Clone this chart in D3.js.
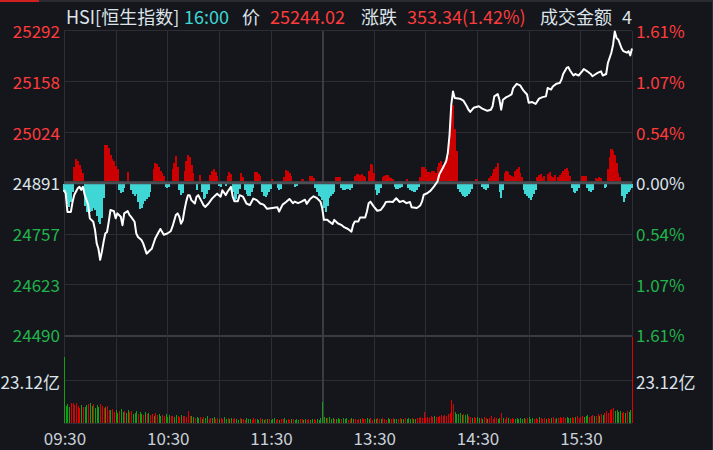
<!DOCTYPE html>
<html>
<head>
<meta charset="utf-8">
<script src="https://cdn.jsdelivr.net/npm/d3@7"></script>
<style>
  body { margin: 0; background: #14161b; }
  svg { display: block; font-family: "Noto Sans CJK SC", "Noto Sans", sans-serif; }
</style>
</head>
<body>
<svg width="713" height="450"></svg>
<script>
// previous close and the symmetric percent range of the chart
var prevClose = 24890.68;
var maxPct = 1.61;

// left / right axis ticks
var priceTicks = [25292, 25158, 25024, 24891, 24757, 24623, 24490];
var pctTicks = ['1.61%', '1.07%', '0.54%', '0.00%', '0.54%', '1.07%', '1.61%'];

// time axis (minute index from 09:30, lunch removed)
var timeTickMin = [0, 60, 120, 180, 240, 300];
var timeTicks = ['09:30', '10:30', '11:30', '13:30', '14:30', '15:30'];

// header
var headerText = ['HSI[恒生指数]', '16:00', '价', '25244.02', '涨跌', '353.34(1.42%)', '成交金额', '4'];

// price line: minute index and index level
var lineMin = [0,1,2,4,5,6,8,9,10,11,12,14,15,17,18,19,20,21,22,23,24,25,26,27,29,30,31,33,34,35,37,38,39,41,42,43,45,46,48,50,51,53,55,56,58,60,62,63,65,66,67,68,69,70,71,72,73,74,76,77,78,80,81,82,84,86,88,89,91,92,94,95,97,98,99,101,102,104,106,108,110,112,114,116,118,121,124,125,127,129,131,133,134,136,138,140,141,143,145,147,149,150,151,153,154,156,157,159,161,163,165,167,168,169,171,172,175,176,177,178,180,182,184,186,187,189,191,193,195,197,199,201,202,205,207,208,209,211,213,215,217,218,220,222,223,224,225,226,227,230,232,234,235,236,238,241,243,246,248,249,250,252,253,254,255,257,258,260,261,263,265,267,269,270,272,274,276,278,280,281,283,284,286,288,289,290,292,293,294,296,297,299,301,302,304,306,307,309,310,312,313,315,316,318,319,320,321,322,324,325,327,328,329,330];
var linePrice = [24872,24862,24814,24814,24841,24859,24876,24880,24872,24880,24859,24833,24797,24788,24767,24731,24717,24688,24709,24735,24757,24761,24788,24819,24816,24797,24810,24801,24779,24810,24816,24806,24801,24788,24757,24748,24740,24731,24704,24713,24717,24744,24761,24769,24754,24757,24763,24775,24806,24810,24801,24783,24792,24819,24841,24858,24858,24845,24836,24854,24858,24841,24832,24827,24836,24849,24858,24862,24854,24871,24858,24867,24880,24854,24842,24842,24858,24854,24836,24832,24849,24845,24836,24833,24822,24824,24826,24815,24833,24840,24848,24837,24841,24837,24841,24846,24835,24848,24855,24850,24841,24824,24793,24793,24789,24782,24793,24784,24780,24773,24769,24762,24780,24789,24789,24799,24799,24815,24837,24841,24828,24817,24819,24831,24840,24841,24840,24850,24840,24843,24837,24840,24826,24824,24831,24841,24859,24863,24870,24881,24894,24912,24929,24947,24969,25017,25096,25131,25114,25112,25107,25092,25083,25077,25088,25092,25086,25080,25083,25092,25118,25124,25109,25083,25109,25116,25118,25123,25140,25151,25147,25133,25123,25101,25103,25098,25112,25116,25118,25140,25136,25144,25151,25153,25162,25177,25193,25195,25186,25173,25177,25173,25184,25190,25184,25177,25171,25177,25180,25184,25173,25177,25206,25233,25254,25289,25272,25268,25244,25237,25233,25237,25226,25244.02];

// buy/sell strength bars per minute (positive red, negative cyan)
var strength = [
  -8,-14,-20,-23,-18,-8,14,22,20,16,
  12,8,-22,-28,-28,-28,-27,-24,-26,-32,
  -38,-40,-34,-14,36,36,33,26,22,20,
  15,12,-6,-9,-8,-4,0,9,0,-6,
  -10,-12,-10,-18,-25,-24,-20,-17,-15,-13,
  -8,0,12,18,17,14,10,8,5,-3,
  -4,-3,0,12,18,25,14,-6,-11,-9,
  10,20,26,24,16,8,0,-6,0,6,
  -8,-15,-14,-10,-6,6,10,12,9,5,
  -2,-3,0,0,-2,5,9,7,-8,-16,
  -15,-10,-5,8,4,-6,-10,-12,-12,-8,
  -4,9,9,7,5,-8,-12,-13,-11,-8,
  -5,2,0,0,-4,-6,-5,0,4,11,
  10,8,5,0,-3,-2,0,0,2,2,
  0,0,0,5,5,3,-4,-8,-12,-13,
  -16,-24,-28,-22,-14,-12,-10,-8,4,4,
  4,-4,-6,-6,-5,-5,-6,-4,0,5,
  7,7,6,7,5,4,0,10,17,16,
  8,-6,-11,-9,-4,4,5,6,6,4,
  3,2,-3,-5,-5,-4,-3,0,0,2,
  -4,-6,-7,-8,-8,-6,-3,4,14,14,
  12,9,9,8,10,10,8,14,18,20,
  16,20,20,24,40,76,76,52,30,-5,
  -8,-10,-12,-13,-12,-10,-8,-5,0,2,
  2,0,0,-3,-5,-6,-4,3,5,8,
  12,14,18,-8,-14,-6,8,10,9,6,
  5,4,10,12,14,8,4,-6,-10,-12,
  -14,-16,-13,-10,-6,4,6,7,3,5,
  0,7,9,5,4,6,0,4,6,8,
  10,12,13,10,5,-4,-8,-9,-7,-4,
  0,5,5,5,-4,-7,-8,-6,0,3,
  2,4,3,0,-4,-3,12,24,32,30,
  26,18,8,4,-12,-18,-14,-10,-8,-6,
  -4
];

// turnover per minute (亿) and direction (u = up/red, d = down/green)
var volume = [
  35.5,9.0,10.2,8.6,11.0,10.5,9.8,10.8,9.2,8.0,
  9.5,8.8,8.4,9.9,10.3,10.6,9.1,10.4,8.2,9.6,
  8.7,10.1,9.3,7.8,8.6,9.0,7.2,6.8,7.5,6.1,
  7.0,5.6,6.4,7.3,5.9,6.6,5.2,7.1,5.8,6.2,
  4.8,5.5,6.3,4.6,5.9,5.1,4.4,6.0,4.9,5.4,
  4.2,4.8,3.9,5.2,4.1,4.6,3.6,4.3,3.8,5.0,
  3.4,4.5,3.7,4.0,3.2,4.4,3.6,3.0,4.2,3.5,
  3.8,3.3,6.2,3.6,4.0,3.1,2.8,3.4,2.6,3.2,
  2.4,3.0,2.7,3.5,2.2,2.9,2.5,3.1,2.3,2.8,
  2.1,2.6,2.4,3.0,2.0,2.7,2.2,2.5,1.9,2.8,
  2.3,1.8,2.6,2.1,2.4,1.7,2.9,2.0,2.2,1.6,
  2.5,1.9,2.3,1.8,2.6,2.0,1.5,2.4,1.9,2.2,
  1.7,2.1,2.5,1.8,2.0,1.6,2.3,1.9,2.7,1.8,
  2.2,1.6,2.0,2.4,1.7,2.1,1.5,1.9,2.3,1.6,
  2.0,1.8,2.2,1.5,1.9,2.4,1.7,2.1,1.8,2.6,
  11.3,3.2,2.8,2.5,3.0,2.2,2.7,2.4,2.0,2.6,
  2.3,1.9,2.8,2.1,2.5,1.8,2.2,2.9,2.0,2.4,
  1.7,2.3,2.0,2.6,1.9,2.2,2.8,2.1,2.5,1.8,
  2.4,2.0,2.7,1.9,2.3,2.6,2.1,1.8,2.5,2.2,
  2.0,2.6,1.9,2.4,2.1,2.8,2.2,1.9,2.5,2.3,
  2.6,2.1,2.9,2.4,2.2,2.7,2.5,3.0,2.8,6.0,
  2.6,3.2,2.9,3.5,3.1,3.8,3.4,3.0,3.6,4.2,
  3.7,4.4,3.9,4.8,5.2,12.4,10.2,6.0,5.1,4.6,
  5.4,4.3,5.0,4.1,4.7,3.8,3.2,2.9,3.4,2.7,
  3.1,2.5,2.9,2.4,3.3,2.6,2.2,2.8,3.5,2.4,
  3.0,2.6,2.3,2.9,5.4,2.7,2.4,3.1,2.5,2.2,
  2.8,2.4,2.0,2.6,2.3,2.9,2.1,2.5,2.2,2.7,
  3.0,2.4,2.8,2.1,2.6,2.3,3.1,2.5,2.0,2.7,
  2.4,2.9,2.2,2.6,3.0,2.3,2.8,2.5,3.2,2.6,
  3.4,2.8,3.1,2.5,2.9,3.3,2.7,3.0,3.6,2.9,
  3.2,3.8,3.0,3.5,4.1,3.3,3.7,4.4,3.6,4.0,
  4.6,3.9,5.0,4.4,5.6,6.2,5.3,6.8,7.4,8.1,
  6.5,7.0,5.8,6.4,5.2,6.1,5.5,6.6,5.9,7.0,
  46.24
];
var volDir = 'dddduuuuuu' + 'dudduddudd' + 'duuuduuduu' + 'dduddudduu' + 'ddduddudud' +
  'uuduudduud' + 'dduudduudu' + 'uuuudduddu' + 'dudduudduu' + 'duuddudduu' +
  'dduduudddu' + 'uudduddudu' + 'ddduuduudd' + 'uududdduud' + 'duudduuddd' +
  'dddudddudd' + 'duddduuddu' + 'uuduuudduu' + 'dduuduuudd' + 'uudduuddud' +
  'ddudduuuuu' + 'uuuuuduuuu' + 'uuuuuuuddd' + 'ddudduuduu' + 'dduduuduuu' +
  'uudduduudu' + 'uudddddduu' + 'ddduuuduuu' + 'duuduuduuu' + 'uuddduuduu' +
  'uuddduuudu' + 'ududuuuuuu' + 'dddduududd' + 'u';

var volMid = 23.12;

// colours
var cBg = '#14161b', cGrid = '#2c2e33', cWhite = '#dde3ea';
var cRed = '#ff3b3b', cGreen = '#22b34b', cCyan = '#3fd6d6';

var svg = d3.select('svg');
svg.append('rect').attr('width', 713).attr('height', 450).attr('fill', cBg);

// top tab strip
svg.append('rect').attr('x', 0).attr('y', 0).attr('width', 713).attr('height', 2).attr('fill', '#2a2c31');
svg.append('rect').attr('x', 0).attr('y', 0).attr('width', 39).attr('height', 2).attr('fill', '#d02020');

// scales
var x = d3.scaleLinear().domain([0, 330]).range([64, 632]);
var y = d3.scaleLinear()
  .domain([prevClose * (1 - maxPct / 100), prevClose * (1 + maxPct / 100)])
  .range([335, 30.5]);
var s = d3.scaleLinear().domain([0, 100]).range([0, 100]);
var v = d3.scaleLinear().domain([0, volMid * 2]).range([423, 337]);
var zeroY = y(prevClose);

// grid
var grid = svg.append('g').attr('shape-rendering', 'crispEdges');
priceTicks.forEach(function(t, i) {
  if (i === 3) return;
  grid.append('line')
    .attr('x1', 64).attr('x2', 632)
    .attr('y1', Math.round(y(t)) + 0.5).attr('y2', Math.round(y(t)) + 0.5)
    .attr('stroke', i === 6 ? '#3a3c41' : cGrid)
    .attr('stroke-width', i === 6 ? 2 : 1);
});
[volMid, 0].forEach(function(t) {
  grid.append('line')
    .attr('x1', 64).attr('x2', 632)
    .attr('y1', Math.round(v(t)) + 0.5).attr('y2', Math.round(v(t)) + 0.5)
    .attr('stroke', cGrid);
});
d3.range(0, 331, 30).forEach(function(m) {
  grid.append('line')
    .attr('x1', Math.round(x(m)) + 0.5).attr('x2', Math.round(x(m)) + 0.5)
    .attr('y1', 30.5).attr('y2', 423)
    .attr('stroke', m === 150 ? '#3a3c41' : cGrid)
    .attr('stroke-width', m === 150 ? 2 : 1);
});
grid.append('line').attr('x1', 712.5).attr('x2', 712.5).attr('y1', 0).attr('y2', 450).attr('stroke', cGrid);

// strength bars
var step = x(1) - x(0);
svg.append('g').attr('shape-rendering', 'crispEdges')
  .selectAll('rect').data(strength).enter().append('rect')
  .attr('x', function(d, i) { return x(i) - step / 2; })
  .attr('width', step + 0.3)
  .attr('y', function(d) { return d >= 0 ? zeroY - 1.5 - s(d) : zeroY + 1.5; })
  .attr('height', function(d) { return s(Math.abs(d)); })
  .attr('fill', function(d) { return d >= 0 ? '#cc0000' : cCyan; });

// zero line
svg.append('rect').attr('x', 64).attr('width', 568)
  .attr('y', zeroY - 1.5).attr('height', 3).attr('fill', '#4b4e53');

// volume bars
svg.append('g').attr('shape-rendering', 'crispEdges')
  .selectAll('rect').data(volume).enter().append('rect')
  .attr('x', function(d, i) { return Math.round(x(i)); })
  .attr('width', 1)
  .attr('y', function(d) { return v(d); })
  .attr('height', function(d) { return v(0) - v(d); })
  .attr('fill', function(d, i) { return volDir[i] === 'u' ? '#e00000' : '#12a012'; });

// price line
var lineData = lineMin.map(function(m, i) { return [m, linePrice[i]]; });
svg.append('path')
  .attr('d', d3.line().x(function(d) { return x(d[0]); }).y(function(d) { return y(d[1]); })(lineData))
  .attr('fill', 'none').attr('stroke', '#ffffff').attr('stroke-width', 2)
  .attr('stroke-linejoin', 'round');

// axis labels
function label(px, py, txt, color, anchor, size) {
  svg.append('text').attr('x', px).attr('y', py)
    .attr('fill', color).attr('text-anchor', anchor)
    .attr('dominant-baseline', 'central')
    .style('font-size', size + 'px').text(txt);
}
priceTicks.forEach(function(t, i) {
  var col = i < 3 ? cRed : (i === 3 ? cWhite : cGreen);
  label(60, y(t), String(t), col, 'end', 17);
  label(636, y(t), pctTicks[i], col, 'start', 17);
});
label(60, v(volMid) + 1, volMid.toFixed(2) + '亿', cWhite, 'end', 17);
label(636, v(volMid) + 1, volMid.toFixed(2) + '亿', cWhite, 'start', 17);
timeTickMin.forEach(function(m, i) {
  label(x(m) + 1, 437, timeTicks[i], '#c9d0d8', 'middle', 17);
});

// header
var headerX = [66, 184, 242, 270, 361, 407, 540, 622];
var headerCol = [cWhite, cCyan, cWhite, cRed, cWhite, cRed, cWhite, cWhite];
headerText.forEach(function(t, i) {
  label(headerX[i], 16, t, headerCol[i], 'start', 18);
});
</script>
</body>
</html>
